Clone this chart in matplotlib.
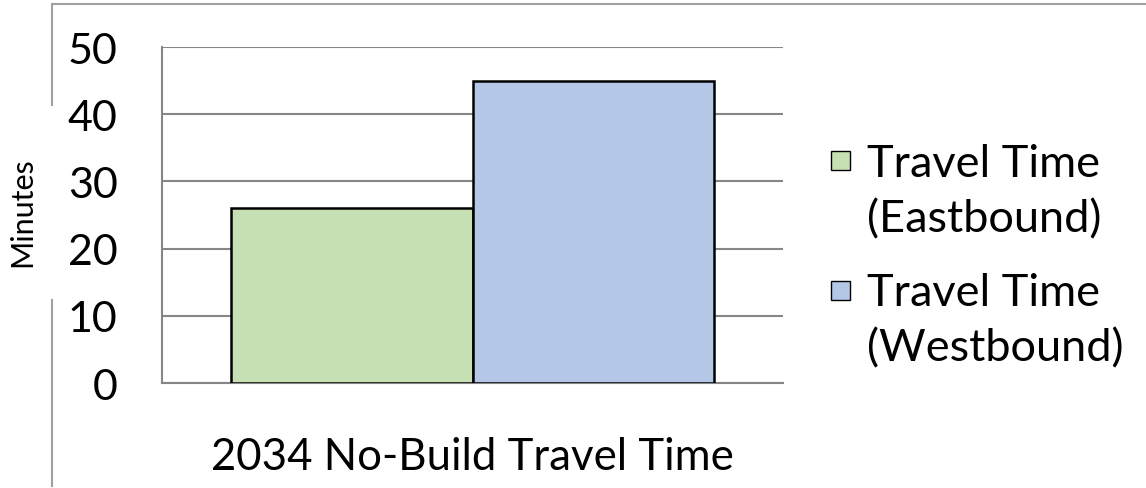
import matplotlib.pyplot as plt
from matplotlib.lines import Line2D
from matplotlib.patches import Rectangle

# data
categories = ["2034 No-Build Travel Time"]
series_labels = ["Travel Time\n(Eastbound)", "Travel Time\n(Westbound)"]
series_values = [26, 45]
series_colors = ["#C6E0B4", "#B4C7E7"]
y_ticks = [0, 10, 20, 30, 40, 50]

plt.rcParams['font.family'] = ['Lato', 'DejaVu Sans']

fig = plt.figure(figsize=(11.46, 4.89), dpi=100)
ax = fig.add_axes([0.1414, 0.2147, 0.5419, 0.6871])

offsets = [-0.5, 0.5]
for off, val, col in zip(offsets, series_values, series_colors):
    ax.bar(off, val, width=1.0, color=col, edgecolor="black", linewidth=1.8, zorder=3)

ax.set_xlim(-1.285, 1.285)
ax.set_ylim(0, 50)
ax.set_yticks(y_ticks)
ax.set_yticklabels([str(t) for t in y_ticks], fontsize=31)
ax.set_xticks([0])
ax.set_xticklabels(categories, fontsize=31.5)
ax.tick_params(axis="both", length=0)
ax.tick_params(axis="y", pad=32)
ax.tick_params(axis="x", pad=38)

ax.yaxis.grid(True, color="#868686", linewidth=1.5, zorder=0)
for side in ["right", "top"]:
    ax.spines[side].set_visible(False)
ax.spines["left"].set_color("#868686")
ax.spines["bottom"].set_color("#868686")
ax.spines["left"].set_linewidth(1.5)
ax.spines["bottom"].set_linewidth(1.5)

fig.text(22 / 1146, 1 - 212 / 489, "Minutes", rotation=90, fontsize=22,
         ha="center", va="center")

# legend drawn by hand so the swatch lines up with the first text line
W, H = 1146, 489
for i, (lab, col) in enumerate(zip(series_labels, series_colors)):
    sq_c = 161 + i * 130
    fig.add_artist(Rectangle((831 / W, 1 - (sq_c + 9.5) / H), 19 / W, 19 / H,
                             facecolor=col, edgecolor="black", linewidth=1.0,
                             transform=fig.transFigure))
    fig.text(867 / W, 1 - (192 + i * 129) / H, lab, fontsize=32.5, ha="left", va="center",
             linespacing=1.42)

# outer chart frame (partly cropped)
frame = "#A0A0A0"
fig.add_artist(Line2D([52 / W, 1.0], [1 - 5 / H, 1 - 5 / H], color=frame, linewidth=1.5))
fig.add_artist(Line2D([52 / W, 52 / W], [1 - 5 / H, 1 - 106 / H], color=frame, linewidth=1.5))
fig.add_artist(Line2D([52 / W, 52 / W], [1 - 301 / H, 1 - 487 / H], color=frame, linewidth=1.5))

fig.savefig("out.png", dpi=100)
